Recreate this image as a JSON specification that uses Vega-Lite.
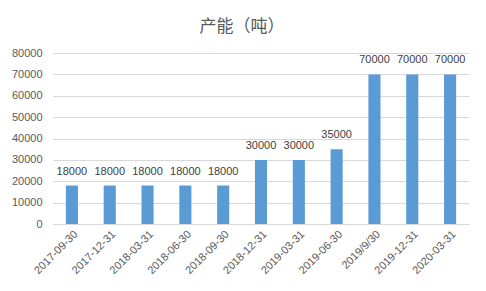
{
  "$schema": "https://vega.github.io/schema/vega-lite/v6.json",
  "autosize": {"type": "none"},
  "width": 416,
  "height": 171,
  "padding": {"left": 53, "top": 53, "right": 17, "bottom": 67},
  "background": "white",
  "title": {
    "text": "产能（吨）",
    "font": "Noto Sans CJK SC",
    "fontSize": 17,
    "fontWeight": "normal",
    "color": "#595959",
    "anchor": "middle",
    "frame": "group",
    "dx": -19,
    "offset": -6,
    "baseline": "bottom"
  },
  "data": {
    "values": [
      {"date": "2017-09-30", "capacity": 18000},
      {"date": "2017-12-31", "capacity": 18000},
      {"date": "2018-03-31", "capacity": 18000},
      {"date": "2018-06-30", "capacity": 18000},
      {"date": "2018-09-30", "capacity": 18000},
      {"date": "2018-12-31", "capacity": 30000},
      {"date": "2019-03-31", "capacity": 30000},
      {"date": "2019-06-30", "capacity": 35000},
      {"date": "2019/9/30", "capacity": 70000},
      {"date": "2019-12-31", "capacity": 70000},
      {"date": "2020-03-31", "capacity": 70000}
    ]
  },
  "encoding": {
    "x": {
      "field": "date",
      "type": "nominal",
      "sort": null,
      "scale": {"paddingInner": 0.68, "paddingOuter": 0.34},
      "axis": {
        "title": null,
        "labelAngle": -45,
        "labelAlign": "right",
        "labelBaseline": "top",
        "labelFont": "Liberation Sans",
        "labelFontSize": 11,
        "labelColor": "#595959",
        "labelPadding": 4,
        "ticks": false,
        "domainColor": "#d9d9d9",
        "domainWidth": 1
      }
    },
    "y": {
      "field": "capacity",
      "type": "quantitative",
      "scale": {"domain": [0, 80000], "nice": false},
      "axis": {
        "title": null,
        "values": [0, 10000, 20000, 30000, 40000, 50000, 60000, 70000, 80000],
        "format": "d",
        "labelFont": "Liberation Sans",
        "labelFontSize": 11,
        "labelColor": "#595959",
        "labelPadding": 11,
        "ticks": false,
        "domain": false,
        "gridColor": "#d9d9d9",
        "gridWidth": 1
      }
    }
  },
  "layer": [
    {"mark": {"type": "bar", "color": "#5b9bd5"}},
    {
      "mark": {
        "type": "text",
        "dy": -9,
        "font": "Liberation Sans",
        "fontSize": 11,
        "color": "#404040",
        "baseline": "bottom"
      },
      "encoding": {"text": {"field": "capacity", "type": "quantitative", "format": "d"}}
    }
  ],
  "config": {"view": {"stroke": null}}
}
